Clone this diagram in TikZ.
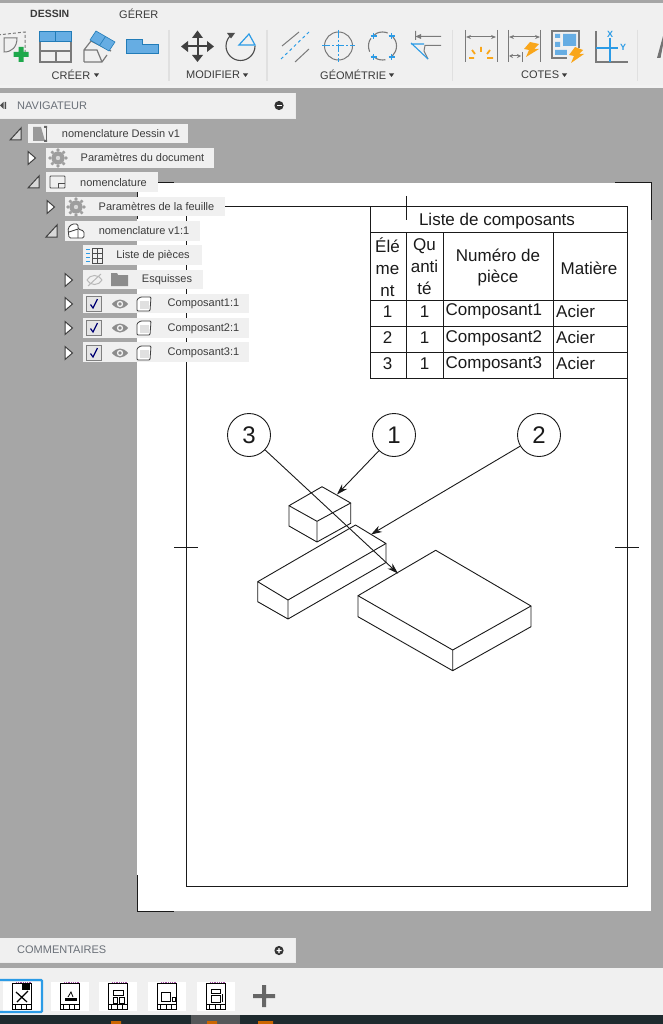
\documentclass[tikz,border=0pt]{standalone}
\usepackage{fontspec}
\setmainfont{Liberation Sans}
\usetikzlibrary{arrows.meta,calc}
\definecolor{bggrey}{HTML}{A6A6A6}
\definecolor{panel}{HTML}{F0F0F0}
\definecolor{ink}{HTML}{1A1A1A}
\definecolor{uitext}{HTML}{3A3A3A}
\definecolor{navtext}{HTML}{6A7078}
\definecolor{icong}{HTML}{7A7A7A}
\definecolor{blueic}{HTML}{66ADE3}
\definecolor{bluel}{HTML}{2B9BE6}
\definecolor{orangeic}{HTML}{F9A61A}
\definecolor{greenic}{HTML}{1EA84B}
\definecolor{darkbar}{HTML}{1E2A2E}
\tikzset{
  x=1pt,y=-1pt,
  uilabel/.style={font=\fontsize{11}{13}\selectfont,text=uitext,inner sep=0pt,anchor=west},
  treelabel/.style={font=\fontsize{11}{13}\selectfont,text=ink!85,inner sep=0pt},
  navlabel/.style={font=\fontsize{11}{13}\selectfont,text=navtext,inner sep=0pt,anchor=west},
  sheetline/.style={draw=ink,line width=1pt},
  thinpart/.style={draw=ink,line width=0.9pt,line join=round},
  tabletext/.style={font=\fontsize{17}{19}\selectfont,text=ink,inner sep=0pt,align=center},
  balloon/.style={circle,draw=ink,fill=white,line width=0.9pt,minimum size=43pt,inner sep=0pt,font=\fontsize{24}{26}\selectfont,text=ink},
  leader/.style={draw=ink,line width=0.9pt,-{Stealth[length=11pt,width=7pt]}},
  treebox/.style={fill=panel,draw=none},
  tri/.style={draw=black!75,line width=1pt,line join=miter},
  iconline/.style={draw=icong,line width=1.2pt},
  sep/.style={draw=black!12,line width=1.2pt},
  thumb/.style={fill=white,draw=none},
}
% helpers
\newcommand{\tbox}[4]{\fill[treebox] (#1,#2) rectangle (#3,#4);}
\newcommand{\caret}[1]{\fill[uitext] (#1,73.5) -- (#1+5,73.5) -- (#1+2.5,77) -- cycle;}
\newcommand{\topen}[2]{\draw[tri,fill=black!15] (#1-5,#2+6) -- (#1+6,#2+6) -- (#1+6,#2-6) -- cycle;}
\newcommand{\tclosed}[2]{\draw[tri,fill=white] (#1-4,#2-6.5) -- (#1+3.5,#2) -- (#1-4,#2+6.5) -- cycle;}
\newcommand{\gear}[2]{\fill[black!38] (#1,#2) circle (6.6);
  \foreach \a in {0,45,...,315}{\fill[black!38] ($(#1,#2)+(\a:8)$) circle (1.8);}
  \fill[black!15] (#1,#2) circle (2.2);}
\newcommand{\partic}[2]{\draw[black!75,line width=0.8pt,fill=white,rounded corners=1pt] (#1-7,#2-4.5) -- (#1-3.5,#2-7) -- (#1+7,#2-7) -- (#1+6,#2+7) -- (#1-7,#2+7) -- cycle;
  \fill[black!12] (#1-4.5,#2-3.5) rectangle (#1+4.5,#2+5);}
\newcommand{\chk}[2]{\draw[black!50,line width=0.8pt,fill=black!10] (#1-7.5,#2-7.5) rectangle (#1+7.5,#2+7.5);
  \fill[white!90!black] (#1-5.5,#2-5.5) rectangle (#1+5.5,#2+5.5);
  \draw[blue!45!black,line width=1.2pt] (#1-3.5,#2+0.5) -- (#1-1,#2+4) -- (#1+3.5,#2-5);}
\newcommand{\eye}[2]{\fill[black!45] (#1-8,#2) .. controls (#1-3,#2-6) and (#1+3,#2-6) .. (#1+8,#2) .. controls (#1+3,#2+6) and (#1-3,#2+6) .. (#1-8,#2) -- cycle;
  \fill[panel] (#1,#2) circle (3.2); \fill[black!45] (#1,#2) circle (1.8);}
\newcommand{\thumbic}[2]{\fill[thumb] (#1-19,#2-14.5) rectangle (#1+19,#2+14.5);
  \draw[black,line width=0.8pt] (#1-10,#2-13) rectangle (#1+9,#2+13);
  \draw[black,line width=0.8pt] (#1-10,#2+8) -- (#1+9,#2+8);
  \draw[black,line width=0.6pt] (#1-7,#2+8) -- (#1-7,#2+13) (#1-1,#2+8) -- (#1-1,#2+13) (#1+4,#2+8)--(#1+4,#2+13);
  \draw[violet!70,line width=0.8pt,densely dotted] (#1-6,#2-14) -- (#1+9,#2-14);}
\begin{document}
\begin{tikzpicture}
\useasboundingbox (0,0) rectangle (663,1024);
% ---------- backgrounds
\fill[bggrey] (0,0) rectangle (663,1024);
\fill[panel] (0,3) rectangle (663,85);
\fill[black!5] (0,85) rectangle (663,88);
% ---------- sheet
\fill[white] (137,183) rectangle (651,911);
\draw[sheetline] (186,207) rectangle (627,886);
\draw[sheetline] (137,219) -- (137,183) -- (174,183);
\draw[sheetline] (615,183) -- (651,183) -- (651,220);
\draw[sheetline] (137,875) -- (137,911) -- (174,911);
\draw[sheetline] (174,547) -- (198,547);
\draw[sheetline] (615,547) -- (639,547);
\draw[sheetline] (406,196) -- (406,220);
% ---------- table
\draw[sheetline] (370,207) rectangle (627,378);
\draw[sheetline] (370,233) -- (627,233) (370,300) -- (627,300) (370,326) -- (627,326) (370,352) -- (627,352);
\draw[sheetline] (406.5,233) -- (406.5,378) (443,233) -- (443,378) (553,233) -- (553,378);
\node[tabletext] (ttitle) at (497,221) {Liste de composants};
\node[tabletext] (th1) at (387.5,267) {\'El\'e\\[3pt]me\\[3pt]nt};
\node[tabletext] (th2) at (424.5,267) {Qu\\[3pt]anti\\[3pt]t\'e};
\node[tabletext] (th3) at (498,267.5) {Num\'ero de\\[2pt]pi\`ece};
\node[tabletext] (th4) at (589,268) {Mati\`ere};
\node[tabletext] (c11) at (387.5,312) {1};
\node[tabletext] (c12) at (424.5,312) {1};
\node[tabletext,anchor=west] (c13) at (445.5,311.5) {Composant1};
\node[tabletext,anchor=west] (c14) at (556,311) {Acier};
\node[tabletext] (c21) at (387.5,338) {2};
\node[tabletext] (c22) at (424.5,338) {1};
\node[tabletext,anchor=west] (c23) at (445.5,338) {Composant2};
\node[tabletext,anchor=west] (c24) at (556,337.5) {Acier};
\node[tabletext] (c31) at (387.5,364) {3};
\node[tabletext] (c32) at (424.5,364) {1};
\node[tabletext,anchor=west] (c33) at (445.5,364.5) {Composant3};
\node[tabletext,anchor=west] (c34) at (556,363.5) {Acier};
% ---------- parts
\draw[thinpart] (289,505.7) -- (322,486.7) -- (350.7,503) -- (317,521.3) -- cycle;
\draw[thinpart] (289,505.7) -- (289,526) -- (317,542) -- (350.7,523.3) -- (350.7,503) (317,521.3) -- (317,542);
\draw[thinpart] (257.7,581.7) -- (355.5,525) -- (386,543.5) -- (288,600) -- cycle;
\draw[thinpart] (257.7,581.7) -- (257.7,601.7) -- (288,619) -- (386,562.5) -- (386,543.5) (288,600) -- (288,619);
\draw[thinpart] (358,595.7) -- (435.7,550.3) -- (531,606) -- (452.7,650) -- cycle;
\draw[thinpart] (358,595.7) -- (358,616.7) -- (452.7,670.7) -- (531,626.7) -- (531,606) (452.7,650) -- (452.7,670.7);
% ---------- balloons and leaders
\node[balloon] (b3) at (249,435) {3};
\node[balloon] (b1) at (394,435) {1};
\node[balloon] (b2) at (539,435) {2};
\coordinate (t1) at (337,494.5);
\coordinate (t2) at (371,534.5);
\coordinate (t3) at (398,573.5);
\draw[leader] (b1) -- (t1);
\draw[leader] (b2) -- (t2);
\draw[leader] (b3) -- (t3);
% ---------- toolbar tabs and labels
\node[uilabel,font=\fontsize{10.5}{12}\selectfont\bfseries] (tabd) at (30,14) {DESSIN};
\node[uilabel] (tabg) at (119,14) {G\'ERER};
\node[uilabel] (lcreer) at (51.5,75) {CR\'EER};
\node[uilabel] (lmod) at (186,75) {MODIFIER};
\node[uilabel] (lgeo) at (320,75) {G\'EOM\'ETRIE};
\node[uilabel] (lcot) at (521,75) {COTES};
\caret{94}\caret{243}\caret{389}\caret{562}
\draw[sep] (169,30) -- (169,81) (267,30) -- (267,81) (452.5,30) -- (452.5,81) (637.5,30) -- (637.5,81);
% ---------- icons: creer
\draw[iconline,densely dashed,line width=1pt] (-2,35) -- (25,32) -- (25,52);
\draw[iconline,line width=1pt] (4,38) -- (17,38) .. controls (17,47) and (12,52) .. (4,52) -- cycle;
\fill[greenic] (18.5,47) rectangle (23.5,62) (13.5,52) rectangle (28.5,57);
\draw[iconline] (40,41) rectangle (71,62) (40,51) -- (56,51) -- (56,62) (56,51) -- (71,51);
\fill[blueic] (39,31) rectangle (71,41);
\draw[bluel!80!black,line width=0.7pt] (39,31) rectangle (71,41) (55,31) -- (55,41);
\draw[iconline] (84,62) -- (84,50) -- (91,41) (84,62) -- (102,62) -- (107,55) (84,50)--(97,50)--(102,62) (91,41)--(111,51);
\fill[blueic] (96,31) -- (115,42) -- (109,51) -- (90,40) -- cycle;
\draw[bluel!80!black,line width=0.6pt] (96,31) -- (115,42) -- (109,51) -- (90,40) -- cycle (105.5,36.5)--(99.5,45.5);
\fill[blueic,draw=bluel!80!black,line width=0.6pt] (126.5,39.5) -- (142.5,39.5) -- (142.5,44.5) -- (158.5,44.5) -- (158.5,53.5) -- (126.5,53.5) -- cycle;
% modifier
\draw[black!75,line width=2pt] (186,46.5) -- (209,46.5) (197.5,35) -- (197.5,58);
\fill[black!75] (181,46.5) -- (188,41) -- (188,52) -- cycle (214,46.5) -- (207,41) -- (207,52) -- cycle
 (197.5,30.5) -- (192,38) -- (203,38) -- cycle (197.5,62) -- (192,55) -- (203,55) -- cycle;
\draw[black!70,line width=1.1pt] (255,46) arc (0:235:14.5);
\fill[black!70] (227,33) -- (235,33) -- (231,38.5) -- cycle;
\draw[bluel,line width=1.2pt] (239,45) -- (249,34) -- (255,45) -- cycle;
% geometrie
\draw[icong,line width=1pt] (282,46) -- (299,32) (295,62) -- (309,49);
\draw[bluel,line width=1pt,dashed] (281,59) -- (309,32);
\draw[icong,line width=1pt] (338.5,46) circle (14);
\draw[bluel,line width=1pt,dash pattern=on 8pt off 2pt on 2pt off 2pt] (322,46) -- (355,46) (338.5,30) -- (338.5,62);
\draw[icong,line width=1.1pt,dash pattern=on 14pt off 5pt] (382.5,46) circle (14);
\foreach \dx/\dy in {-9/-10,9/-10,-9/11,9/11}{\draw[bluel,line width=1.3pt] (382.5+\dx-3,46+\dy) -- (382.5+\dx+3,46+\dy) (382.5+\dx,46+\dy-3) -- (382.5+\dx,46+\dy+3);}
\draw[icong,line width=1pt] (415.5,31) -- (415.5,40) (441,36.5) -- (419,36.5) (441,45.5) -- (425,45.5) -- (424,51) (424,51) -- (428,59);
\fill[icong] (415.5,36.5) -- (421,34) -- (421,39) -- cycle;
\draw[bluel,line width=1.1pt] (411,43) -- (428,59) (411,44) -- (424,44);
% cotes
\draw[icong,line width=1pt] (465,30) -- (465,62) (497,30) -- (497,62);
\draw[icong,line width=1pt,<->,>={Stealth[length=5pt,width=4pt]}] (466,37) -- (496,37);
\draw[orangeic,line width=1.8pt] (481,47) -- (481,52) (472,50) -- (475,54) (490,50) -- (487,54) (469,58) -- (474,58) (487,58) -- (493,58);
\draw[icong,line width=1pt] (508.5,30) -- (508.5,62) (540.5,30) -- (540.5,62) (522,52) -- (522,62);
\draw[icong,line width=1pt,<->,>={Stealth[length=5pt,width=4pt]}] (509,37) -- (540,37);
\draw[icong,line width=1pt,<->,>={Stealth[length=4pt,width=4pt]}] (509,56) -- (521,56);
\fill[orangeic] (530,42) -- (539,44) -- (534,49) -- (539,49) -- (526,57) -- (529,50) -- (524,49) -- cycle;
\draw[icong,line width=1.2pt] (552,31) rectangle (579,58);
\fill[blueic] (555,34) rectangle (560,38) (555,42) rectangle (560,47) (563,34) rectangle (576,46) (555,50) rectangle (576,55);
\fill[panel] (567,48) -- (585,48) -- (585,63) -- (567,63) -- cycle;
\fill[orangeic] (575,47) -- (583,50) -- (579,54) -- (584,54) -- (571,63) -- (574,56) -- (569,55) -- cycle;
\draw[icong,line width=1.2pt] (596,31) -- (596,62) -- (628,62);
\draw[bluel,line width=1.1pt] (610,38) -- (610,62) (596,48) -- (618,48);
\node[inner sep=0pt,text=bluel,font=\fontsize{9}{10}\selectfont\bfseries] (xl) at (610,34) {X};
\node[inner sep=0pt,text=bluel,font=\fontsize{9}{10}\selectfont\bfseries] (yl) at (623,47.5) {Y};
\fill[black!55] (657,58) -- (663,36) -- (663,45) -- (660.5,58) -- cycle;
% ---------- navigator panel
\fill[panel] (0,93) rectangle (295,118);
\draw[black!8,line width=0.8pt] (295,93) -- (295,118) -- (0,118);
\fill[black!70] (3.5,102) -- (0,105.5) -- (3.5,109) -- cycle (4.5,102) rectangle (6,109);
\node[navlabel] (nav) at (17,105.5) {NAVIGATEUR};
\fill[black!80] (279,105.5) circle (4.6);
\fill[white] (276.5,104.8) rectangle (281.5,106.2);
% ---------- tree
\tbox{28}{124}{188}{143}\tbox{46}{148}{214}{168}\tbox{46}{172}{158}{192}\tbox{65}{197}{225}{216}\tbox{65}{221}{200}{241}\tbox{83}{245}{202}{265}\tbox{83}{270}{203}{289}\tbox{83}{294}{249}{313}\tbox{83}{318}{249}{338}\tbox{83}{342}{249}{362}
\topen{15}{134}\tclosed{32}{158}\topen{33}{182}\tclosed{51}{207}\topen{51}{231}\tclosed{69}{280}\tclosed{69}{304}\tclosed{69}{328}\tclosed{69}{353}
% tree labels
\node[treelabel] (n1) at (121,134) {nomenclature Dessin v1};
\node[treelabel] (n2) at (142.5,158) {Param\`etres du document};
\node[treelabel] (n3) at (113.5,182.5) {nomenclature};
\node[treelabel] (n4) at (156.5,207) {Param\`etres de la feuille};
\node[treelabel] (n5) at (144,231) {nomenclature v1:1};
\node[treelabel] (n6) at (153,255.5) {Liste de pi\`eces};
\node[treelabel] (n7) at (167,280) {Esquisses};
\node[treelabel] (n8) at (203.5,304) {Composant1:1};
\node[treelabel] (n9) at (203.5,328.5) {Composant2:1};
\node[treelabel] (n10) at (203.5,353) {Composant3:1};
% tree icons
\fill[black!40] (33,127) -- (41,127) -- (45,141) -- (33,141) -- cycle;
\draw[black!60,line width=0.7pt] (46,127) -- (46,141);
\fill[black!60] (44,126) rectangle (47,128) (44,140) rectangle (47,142);
\gear{58}{158}\gear{76}{207}
\draw[black!70,line width=0.8pt,rounded corners=0.8pt] (50,176) rectangle (65,188);
\draw[black!70,line width=0.8pt] (58,188) -- (58,183) -- (65,183);
\draw[black!75,line width=0.8pt,rounded corners=1.5pt,fill=white] (68,228) -- (72,224) -- (78,224) -- (78,229) -- (84,231) -- (84,238) -- (69,238) -- cycle;
\draw[black!75,line width=0.8pt] (69,232) -- (78,229) -- (78,238);
\draw[bluel,line width=1pt] (86,249) -- (90,249) (86,253) -- (90,253) (86,257) -- (90,257) (86,261) -- (90,261);
\draw[black!70,line width=0.8pt] (92,248) rectangle (102,263) (92,253) -- (102,253) (92,258) -- (102,258) (97,248) -- (97,263);
% esquisses
\draw[black!28,line width=1pt] (87,280) .. controls (90,274) and (99,274) .. (102,280) .. controls (99,286) and (90,286) .. (87,280) -- cycle (88,286) -- (101,274);
\fill[black!45] (111,273) -- (117,273) -- (118,275) -- (128,275) -- (128,286) -- (111,286) -- cycle;
\chk{94}{304}\chk{94}{328}\chk{94}{353}
\eye{120}{304}\eye{120}{328}\eye{120}{353}
\partic{144}{304}\partic{144}{328}\partic{144}{353}
% sheet lines beside tree items
\draw[sheetline] (225,207) -- (370,207);
\draw[sheetline] (158,183) -- (174,183);
% ---------- comments
\fill[panel] (0,938) rectangle (295,962);
\draw[black!8,line width=0.8pt] (295,938) -- (295,962) -- (0,962);
\node[navlabel] (com) at (17,950) {COMMENTAIRES};
\fill[black!80] (279,950.5) circle (4.6);
\fill[white] (276.5,949.8) rectangle (281.5,951.2) (278.3,948) rectangle (279.7,953);
% ---------- bottom bar
\fill[panel] (0,968) rectangle (663,1015);
\fill[darkbar] (0,1015) rectangle (663,1024);
\fill[black!60!darkbar!70!white] (191,1015) rectangle (240,1024);
\fill[orange!80!black] (111,1021) rectangle (121,1024) (207,1021) rectangle (217,1024) (258,1021) rectangle (273,1024);
\thumbic{22}{996}\thumbic{70}{996}\thumbic{118}{996}\thumbic{167}{996}\thumbic{216}{996}
\draw[bluel,line width=2.4pt,rounded corners=1pt] (-2,980) rectangle (42,1012);
% thumbnail contents
\fill[black] (22,984) rectangle (30,990);
\draw[black,line width=1.2pt] (16,992) -- (27,1002) (28,991) -- (17,1002);
\fill[black] (65,998) rectangle (77,1001);
\draw[black,line width=0.8pt] (68,997) -- (71,992) -- (73,997);
\draw[black,line width=1pt] (113,990) rectangle (123,995) (113,997) rectangle (117,1003) (119,997) rectangle (124,1003);
\draw[black,line width=1pt] (161,992) rectangle (170,1001) (172,997) rectangle (175,1001);
\draw[black,line width=1pt] (211,989) rectangle (220,993) (211,995) rectangle (220,1002) (222,994) -- (222,1002);
% plus
\fill[black!60] (253,994) rectangle (275,998) (262,985) rectangle (266,1007);
\end{tikzpicture}
\end{document}
